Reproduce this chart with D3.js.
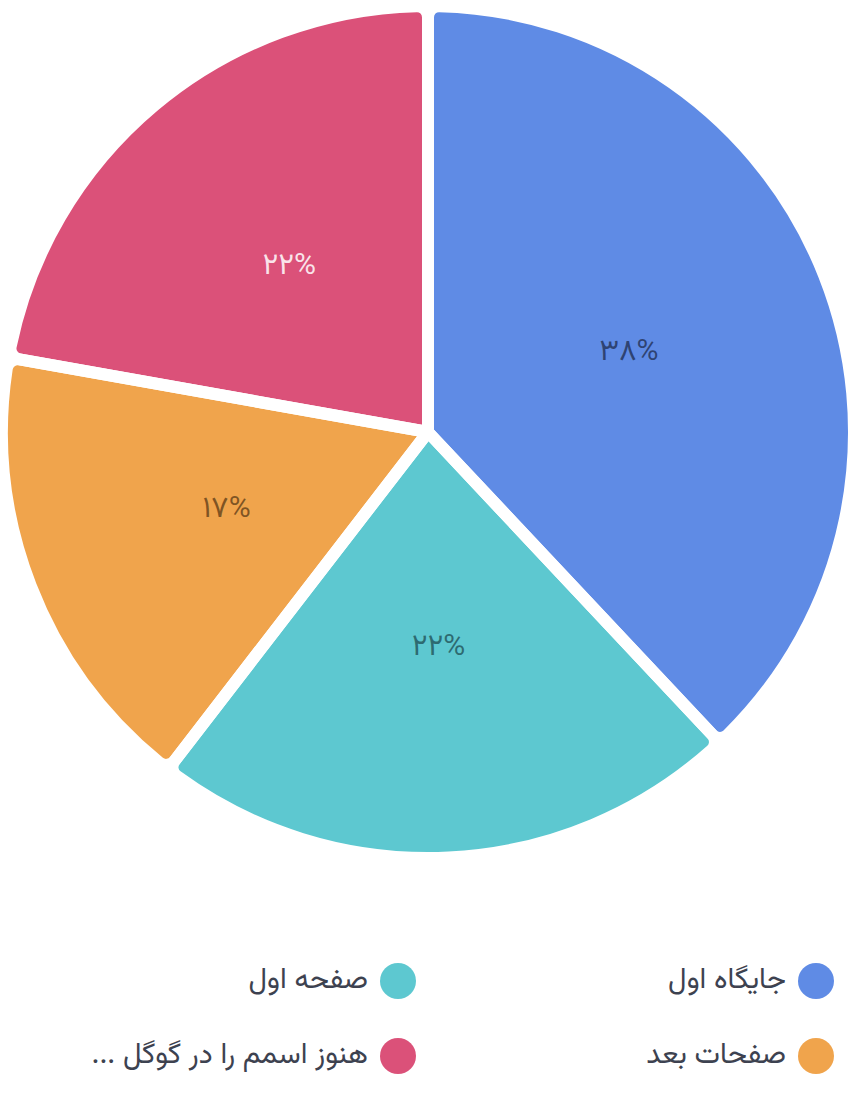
<!DOCTYPE html>
<html lang="fa">
<head>
<meta charset="utf-8">
<script src="https://cdn.jsdelivr.net/npm/d3@7"></script>
<style>
  body { margin: 0; background: #fff; }
  svg { display: block; font-family: Vazirmatn, "Noto Sans Arabic", "DejaVu Sans", sans-serif; }
</style>
</head>
<body>
<div id="chart"></div>
<script>
const labels = ["جایگاه اول", "صفحه اول", "صفحات بعد", "هنوز اسمم را در گوگل ..."];
const values = [38, 22.45, 17.35, 22.2];
const colors = ["#5f8be5", "#5dc8d0", "#f0a44c", "#db5179"];
const labelColors = ["#1e2b4d", "#1e4d52", "#5a3a16", "#ffffff"];

const width = 861;
const height = 1096;
const cx = 428;
const cy = 432;
const radius = 426;
const gap = 12;

const svg = d3.select("#chart").append("svg")
    .attr("width", width)
    .attr("height", height);

const faDigits = n => String(n).replace(/\d/g, d => "۰۱۲۳۴۵۶۷۸۹"[d]);

const total = d3.sum(values);
const pie = d3.pie().sort(null).value(d => d);
const arcs = pie(values);

const arc = d3.arc().innerRadius(0).outerRadius(radius).cornerRadius(11);
const labelArc = d3.arc().innerRadius(0).outerRadius(432);

const g = svg.append("g").attr("transform", `translate(${cx}, ${cy})`);

// slices
g.append("g").selectAll("path")
    .data(arcs).enter()
    .append("path")
    .attr("d", arc)
    .attr("fill", (d, i) => colors[i]);

// white gaps on top
g.append("g").selectAll("path")
    .data(arcs).enter()
    .append("path")
    .attr("d", arc)
    .attr("fill", "none")
    .attr("stroke", "#fff")
    .attr("stroke-width", gap)
    .attr("stroke-linejoin", "round");

// percent labels
g.append("g").selectAll("text")
    .data(arcs).enter()
    .append("text")
    .attr("transform", d => `translate(${labelArc.centroid(d)})`)
    .attr("text-anchor", "middle")
    .attr("dominant-baseline", "central")
    .attr("font-size", 30)
    .attr("fill", (d, i) => labelColors[i])
    .attr("fill-opacity", (d, i) => i === 3 ? 0.85 : 0.75)
    .text(d => faDigits(Math.round(d.data / total * 100)) + "%");

// legend
const legendX = [816, 398];
const legendY = [981, 1056];
const legend = svg.append("g").selectAll("g")
    .data(labels).enter()
    .append("g")
    .attr("transform", (d, i) => `translate(${legendX[i % 2]}, ${legendY[Math.floor(i / 2)]})`);

legend.append("circle")
    .attr("r", 18)
    .attr("fill", (d, i) => colors[i]);

legend.append("text")
    .attr("x", -30)
    .attr("dominant-baseline", "central")
    .attr("text-anchor", "start")
    .attr("direction", "rtl")
    .attr("font-size", 29)
    .attr("fill", "#3d4250")
    .text(d => d);
</script>
</body>
</html>
